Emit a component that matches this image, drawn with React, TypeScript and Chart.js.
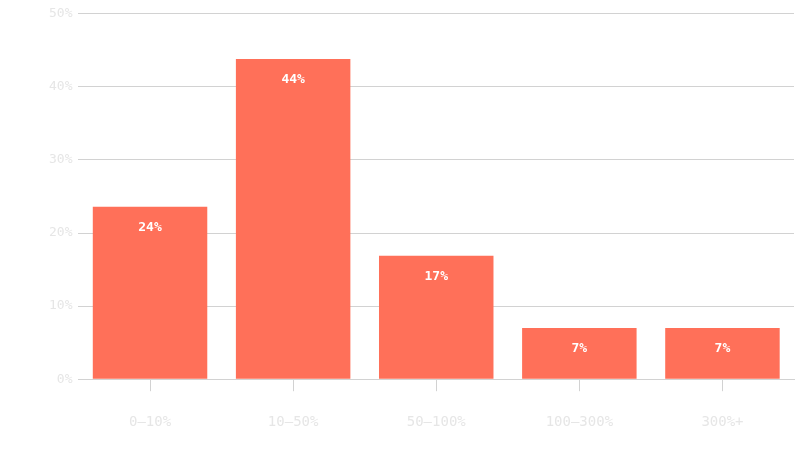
import React, { useEffect, useRef } from "react";
import { Chart, registerables } from "chart.js";

Chart.register(...registerables);

const categories = ["0–10%", "10–50%", "50–100%", "100–300%", "300%+"];
const shares = [23.6, 43.8, 16.9, 7.0, 7.0];
const yTicks = [0, 10, 20, 30, 40, 50];

const BAR_COLOR = "#ff7059";
const GRID_COLOR = "#d2d2d2";
const TICK_COLOR = "#e6e6e6";
const MONO = "'DejaVu Sans Mono', monospace";

const valueLabels = {
  id: "valueLabels",
  afterDatasetsDraw(chart: any) {
    const ctx = chart.ctx;
    const meta = chart.getDatasetMeta(0);
    ctx.save();
    ctx.fillStyle = "#ffffff";
    ctx.font = `bold 13px ${MONO}`;
    ctx.textAlign = "center";
    ctx.textBaseline = "middle";
    meta.data.forEach((bar: any, i: number) => {
      const v = chart.data.datasets[0].data[i] as number;
      ctx.fillText(`${Math.round(v)}%`, bar.x, bar.y + 21);
    });
    ctx.restore();
  },
};

export default function App() {
  const ref = useRef<HTMLCanvasElement | null>(null);

  useEffect(() => {
    document.body.style.margin = "0";
    const canvas = ref.current;
    if (!canvas) return;
    const chart = new Chart(canvas, {
      type: "bar",
      data: {
        labels: categories,
        datasets: [
          {
            data: shares,
            backgroundColor: BAR_COLOR,
            borderWidth: 0,
            barPercentage: 0.8,
            categoryPercentage: 1,
          },
        ],
      },
      options: {
        animation: false,
        responsive: false,
        maintainAspectRatio: false,
        layout: { padding: { left: 43, right: 6, top: 0, bottom: 6 } },
        plugins: {
          legend: { display: false },
          tooltip: { enabled: false },
        },
        scales: {
          x: {
            grid: {
              offset: false,
              drawOnChartArea: false,
              drawTicks: true,
              tickLength: 12,
              color: GRID_COLOR,
            },
            border: { display: true, color: GRID_COLOR },
            ticks: {
              color: TICK_COLOR,
              font: { family: MONO, size: 14 },
              padding: 23,
            },
          },
          y: {
            min: 0,
            max: 50,
            afterBuildTicks(axis: any) {
              axis.ticks = yTicks.map((v) => ({ value: v }));
            },
            grid: { color: GRID_COLOR, drawTicks: false },
            border: { display: false },
            ticks: {
              color: TICK_COLOR,
              font: { family: MONO, size: 13 },
              padding: 6,
              callback: (v: any) => `${v}%`,
            },
          },
        },
      },
      plugins: [valueLabels],
    });
    return () => chart.destroy();
  }, []);

  return (
    <div style={{ width: 800, height: 460 }}>
      <canvas ref={ref} width={800} height={460} style={{ display: "block" }} />
    </div>
  );
}
